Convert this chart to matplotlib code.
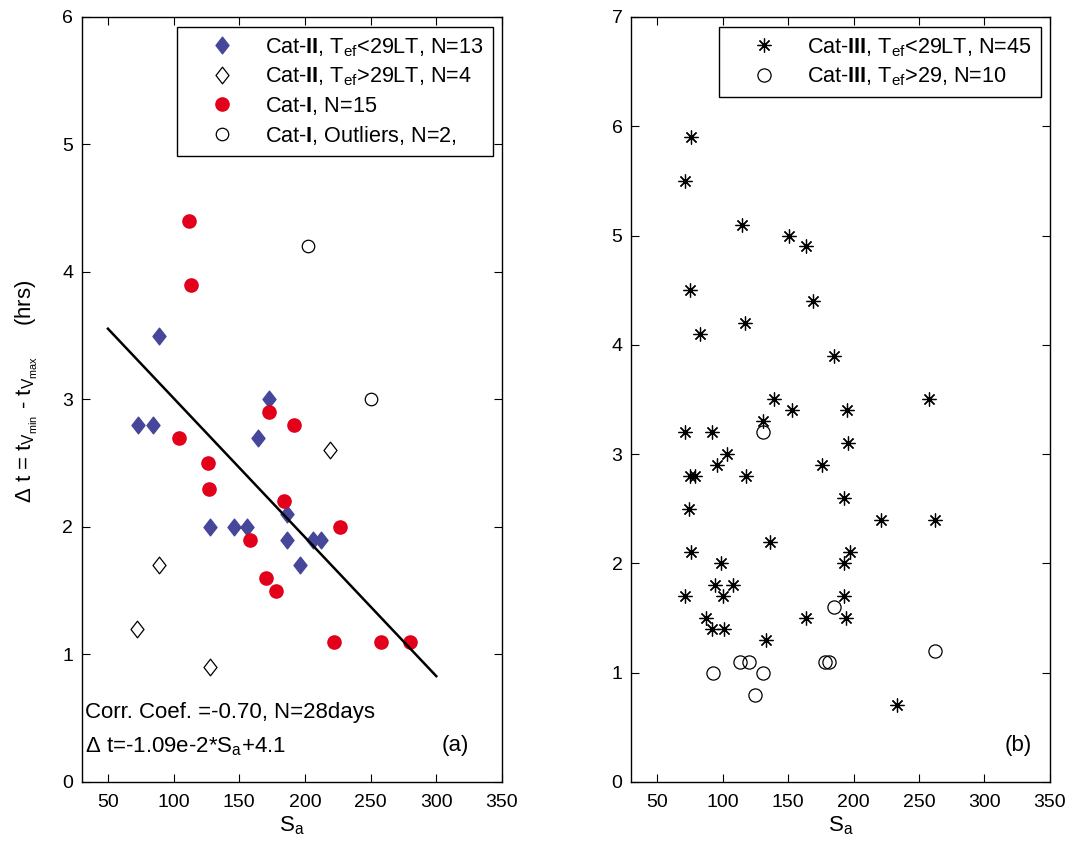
import matplotlib
matplotlib.use("Agg")
import matplotlib.pyplot as plt
from matplotlib.path import Path

plt.rcParams['font.family'] = ['Liberation Sans', 'DejaVu Sans']
plt.rcParams['mathtext.fontset'] = 'custom'
plt.rcParams['mathtext.rm'] = 'Liberation Sans'
plt.rcParams['mathtext.it'] = 'Liberation Sans'
plt.rcParams['mathtext.bf'] = 'Liberation Sans:bold'
plt.rcParams['font.size'] = 16

# ---- panel (a) data ----
cat2_early_sa = [89, 73, 84, 173, 164, 128, 146, 156, 186, 186, 206, 212, 196]
cat2_early_dt = [3.5, 2.8, 2.8, 3.0, 2.7, 2.0, 2.0, 2.0, 2.1, 1.9, 1.9, 1.9, 1.7]
cat2_late_sa = [89, 72, 128, 219]
cat2_late_dt = [1.7, 1.2, 0.9, 2.6]
cat1_sa = [112, 113, 104, 126, 127, 173, 192, 184, 227, 158, 170, 178, 222, 258, 280]
cat1_dt = [4.4, 3.9, 2.7, 2.5, 2.3, 2.9, 2.8, 2.2, 2.0, 1.9, 1.6, 1.5, 1.1, 1.1, 1.1]
outlier_sa = [202, 250]
outlier_dt = [4.2, 3.0]
fit_slope = -1.09e-2
fit_icpt = 4.1
fit_range = [50, 300]

# ---- panel (b) data ----
cat3_early_sa = [76, 71, 115, 151, 164, 75, 169, 117, 83, 185, 139, 258, 153, 195, 131,
                 71, 92, 196, 103, 96, 176, 75, 79, 118, 193, 74, 221, 262, 136, 76,
                 197, 99, 193, 94, 108, 71, 100, 193, 87, 164, 194, 92, 101, 133, 233]
cat3_early_dt = [5.9, 5.5, 5.1, 5.0, 4.9, 4.5, 4.4, 4.2, 4.1, 3.9, 3.5, 3.5, 3.4, 3.4, 3.3,
                 3.2, 3.2, 3.1, 3.0, 2.9, 2.9, 2.8, 2.8, 2.8, 2.6, 2.5, 2.4, 2.4, 2.2, 2.1,
                 2.1, 2.0, 2.0, 1.8, 1.8, 1.7, 1.7, 1.7, 1.5, 1.5, 1.5, 1.4, 1.4, 1.3, 0.7]
cat3_late_sa = [131, 185, 113, 120, 178, 181, 93, 131, 125, 262]
cat3_late_dt = [3.2, 1.6, 1.1, 1.1, 1.1, 1.1, 1.0, 1.0, 0.8, 1.2]

blue = '#46469a'
red = '#e2001a'

# fatter diamond than matplotlib's 'd'
diamond = Path([(0, 1), (0.78, 0), (0, -1), (-0.78, 0), (0, 1)],
               [Path.MOVETO, Path.LINETO, Path.LINETO, Path.LINETO, Path.CLOSEPOLY])
star = (8, 2, 0)


def style_axes(ax):
    ax.tick_params(direction='in', top=True, right=True, length=6, width=0.8,
                   labelsize=14)
    ax.tick_params(axis='x', pad=9)
    ax.tick_params(axis='y', pad=6)
    for s in ax.spines.values():
        s.set_linewidth(1.0)
    ax.set_xlim(30, 350)
    ax.set_xticks([50, 100, 150, 200, 250, 300, 350])
    ax.set_xlabel(r'S$_{\rm a}$', fontsize=16, labelpad=2)


def add_legend(ax, anchor):
    leg = ax.legend(loc='upper right', fancybox=False, edgecolor='black', framealpha=1,
                    fontsize=15.6, borderpad=0.42, labelspacing=0.32, handletextpad=0.35,
                    handlelength=3.3, borderaxespad=0, bbox_to_anchor=anchor)
    leg.get_frame().set_linewidth(1.0)
    return leg


fig = plt.figure(figsize=(10.73, 8.44), dpi=100)
ax1 = fig.add_axes([0.0761, 0.0735, 0.3917, 0.9064])
ax2 = fig.add_axes([0.588, 0.0735, 0.3905, 0.9064])

# panel (a)
ax1.plot(cat2_early_sa, cat2_early_dt, ls='none', marker=diamond, ms=12,
         mfc=blue, mec=blue, label=r'Cat-$\mathbf{II}$, T$_{\rm ef}$<29LT, N=13')
ax1.plot(cat2_late_sa, cat2_late_dt, ls='none', marker=diamond, ms=12,
         mfc='white', mec='black', mew=0.9, label=r'Cat-$\mathbf{II}$, T$_{\rm ef}$>29LT, N=4')
ax1.plot(cat1_sa, cat1_dt, ls='none', marker='o', ms=9.5,
         mfc=red, mec=red, label=r'Cat-$\mathbf{I}$, N=15')
ax1.plot(outlier_sa, outlier_dt, ls='none', marker='o', ms=9,
         mfc='white', mec='black', mew=0.9, label=r'Cat-$\mathbf{I}$, Outliers, N=2,')
ax1.plot(fit_range, [fit_slope * v + fit_icpt for v in fit_range], color='black', lw=1.8)
style_axes(ax1)
ax1.set_ylim(0, 6)
ax1.set_yticks(range(0, 7))
ax1.set_ylabel(r'$\Delta$ t = t$_{V_{\rm min}}$ - t$_{V_{\rm max}}$     (hrs)', fontsize=16)
ax1.yaxis.set_label_coords(-0.10, 0.51)
ax1.text(0.007, 0.084, 'Corr. Coef. =-0.70, N=28days', transform=ax1.transAxes, fontsize=16)
ax1.text(0.007, 0.039, r'$\Delta$ t=-1.09e-2*S$_{\rm a}$+4.1', transform=ax1.transAxes, fontsize=16)
ax1.text(0.857, 0.04, '(a)', transform=ax1.transAxes, fontsize=16)
add_legend(ax1, (0.9786, 0.987))

# panel (b)
ax2.plot(cat3_early_sa, cat3_early_dt, ls='none', marker=star, ms=10,
         mec='black', mew=0.9, label=r'Cat-$\mathbf{III}$, T$_{\rm ef}$<29LT, N=45')
ax2.plot(cat3_late_sa, cat3_late_dt, ls='none', marker='o', ms=9.5,
         mfc='none', mec='black', mew=0.9, label=r'Cat-$\mathbf{III}$, T$_{\rm ef}$>29, N=10')
style_axes(ax2)
ax2.set_ylim(0, 7)
ax2.set_yticks(range(0, 8))
ax2.text(0.893, 0.04, '(b)', transform=ax2.transAxes, fontsize=16)
add_legend(ax2, (0.9785, 0.987))

fig.savefig('out.png', dpi=100)
